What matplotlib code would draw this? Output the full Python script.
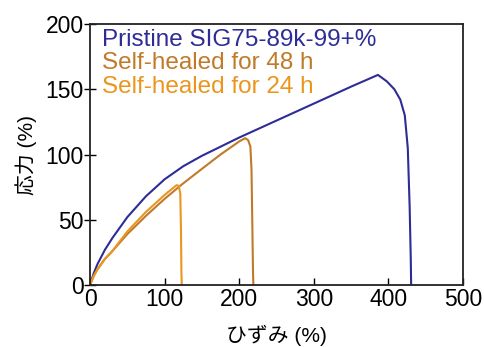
import matplotlib
matplotlib.use("Agg")
import matplotlib.pyplot as plt

# pristine sample
pristine_x = [0, 5, 10, 20, 30, 50, 75, 100, 125, 150, 175, 200, 250, 300, 350,
              386, 398, 408, 416, 422, 426, 428.5, 430, 430.5]
pristine_y = [0, 9, 16, 27, 36, 52, 68, 81, 91, 99, 106, 113, 126, 139, 152,
              161, 156, 150, 142, 130, 105, 60, 20, 0]

# self-healed 48 h
healed48_x = [0, 5, 10, 20, 30, 50, 75, 100, 123, 150, 175, 200, 208, 212, 215,
              216.5, 217.5, 218.5, 219]
healed48_y = [0, 7, 12, 20, 26, 39, 53, 66, 77, 89, 100, 110, 112.5, 111, 106,
              88, 50, 10, 0]

# self-healed 24 h
healed24_x = [0, 5, 10, 20, 30, 50, 75, 100, 116, 119, 121, 122, 122.5, 123]
healed24_y = [0, 7, 12, 20, 26, 41, 56, 69, 76.5, 76, 70, 40, 10, 0]

labels = ["Pristine SIG75-89k-99+%", "Self-healed for 48 h", "Self-healed for 24 h"]
colors = ["#2E2C96", "#BF7A2A", "#EA961E"]

plt.rcParams["font.family"] = ["Liberation Sans", "Noto Sans CJK JP"]

fig = plt.figure(figsize=(4.85, 3.47), dpi=100)
ax = fig.add_axes([0.1856, 0.1787, 0.769, 0.7521])

ax.plot(pristine_x, pristine_y, color=colors[0], lw=1.5)
ax.plot(healed48_x, healed48_y, color=colors[1], lw=1.5)
ax.plot(healed24_x, healed24_y, color=colors[2], lw=1.5)

ax.set_xlim(0, 500)
ax.set_ylim(0, 200)
ax.set_xticks([0, 100, 200, 300, 400, 500])
ax.set_yticks([0, 50, 100, 150, 200])
ax.tick_params(axis="x", direction="in", length=5, width=1, labelsize=16.5, pad=2)
ax.tick_params(axis="y", direction="inout", length=9, width=1, labelsize=16.5, pad=0)
for s in ax.spines.values():
    s.set_linewidth(1.3)
    s.set_color("#222222")

ax.set_xlabel("ひずみ (%)", fontsize=15, labelpad=10)
ax.set_ylabel("応力 (%)", fontsize=15, labelpad=6)

for i in range(3):
    ax.text(0.031, 0.9157 - i * 0.0895, labels[i], color=colors[i], fontsize=17.5,
            transform=ax.transAxes, va="baseline", ha="left")

fig.savefig("out.png", dpi=100)
